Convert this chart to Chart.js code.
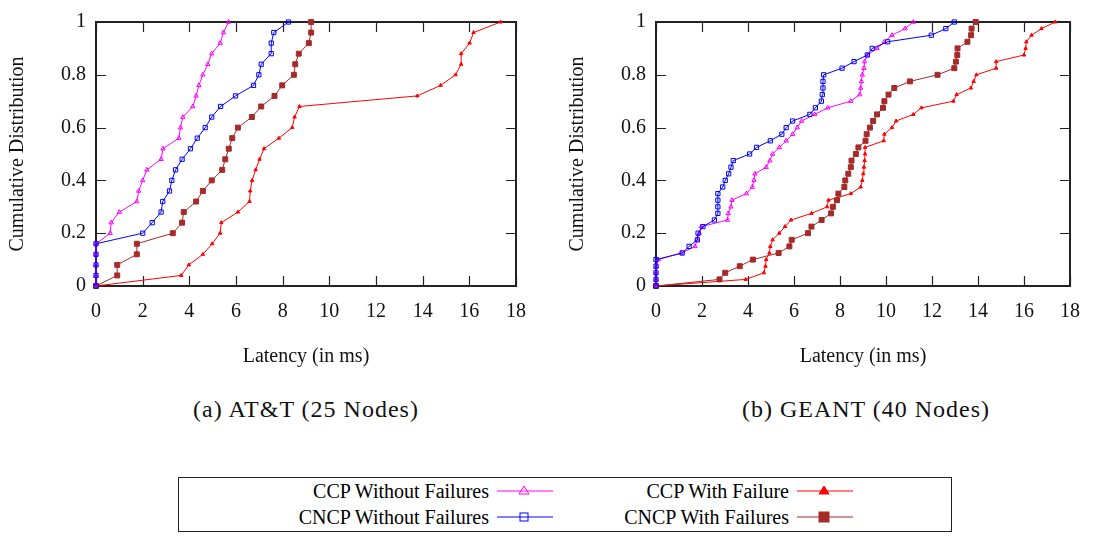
<!DOCTYPE html>
<html>
<head>
<meta charset="utf-8">
<script src="https://cdn.jsdelivr.net/npm/chart.js@4.4.0/dist/chart.umd.min.js"></script>
<style>
  body { margin: 0; background: #fff; }
  #page { position: relative; width: 1094px; height: 537px; overflow: hidden; font-family: "Liberation Serif", serif; }
  canvas { position: absolute; top: 0; }
  .cap { position: absolute; top: 396px; font-size: 24px; letter-spacing: 1px; white-space: nowrap; transform: translateX(-50%); color: #111; }
  #legend { position: absolute; left: 178px; top: 477px; width: 772px; height: 53px; border: 1.5px solid #222; }
  .item { position: absolute; height: 26px; font-size: 20px; line-height: 26px; white-space: nowrap; }
  .item span { position: absolute; right: 64px; top: 0; }
  .item svg { position: absolute; right: 0; top: 0; }
</style>
</head>
<body>
<div id="page">
  <canvas id="att" width="540" height="380" style="left:0px"></canvas>
  <canvas id="geant" width="534" height="380" style="left:560px"></canvas>
  <div class="cap" style="left:306px">(a) AT&amp;T (25 Nodes)</div>
  <div class="cap" style="left:866px">(b) GEANT (40 Nodes)</div>
  <div id="legend"></div>
</div>
<script>
// Dữ liệu: trục Y là phân phối tích lũy, trục X là độ trễ (ms)
const attY = [0, 0.04, 0.08, 0.12, 0.16, 0.2, 0.24, 0.28, 0.32, 0.36, 0.4, 0.44, 0.48, 0.52, 0.56, 0.6, 0.64, 0.68, 0.72, 0.76, 0.8, 0.84, 0.88, 0.92, 0.96, 1];
const geantY = [0, 0.025, 0.05, 0.075, 0.1, 0.125, 0.15, 0.175, 0.2, 0.225, 0.25, 0.275, 0.3, 0.325, 0.35, 0.375, 0.4, 0.425, 0.45, 0.475, 0.5, 0.525, 0.55, 0.575, 0.6, 0.625, 0.65, 0.675, 0.7, 0.725, 0.75, 0.775, 0.8, 0.825, 0.85, 0.875, 0.9, 0.925, 0.95, 0.975, 1];

// AT&T (25 nodes)
const attCcpNoFail = [0, 0, 0, 0, 0, 0.61, 0.65, 1.0, 1.75, 1.83, 2.0, 2.18, 2.79, 2.87, 3.55, 3.62, 3.72, 4.15, 4.29, 4.41, 4.58, 4.79, 4.96, 5.32, 5.46, 5.68];
const attCncpNoFail = [0, 0, 0, 0, 0, 2.0, 2.41, 2.79, 2.86, 3.15, 3.25, 3.41, 3.69, 4.05, 4.34, 4.68, 4.96, 5.34, 5.98, 6.75, 6.98, 7.08, 7.51, 7.51, 7.62, 8.25];
const attCcpFail = [0, 3.65, 3.98, 4.58, 4.98, 5.32, 5.37, 6.08, 6.58, 6.61, 6.69, 6.84, 7.01, 7.2, 7.84, 8.41, 8.51, 8.72, 13.77, 14.77, 15.41, 15.65, 15.65, 16.01, 16.18, 17.34];
const attCncpFail = [0, 0.91, 0.91, 1.75, 1.75, 3.29, 3.69, 3.76, 4.29, 4.58, 4.96, 5.41, 5.54, 5.69, 5.84, 6.08, 6.68, 7.08, 7.65, 7.98, 8.48, 8.54, 8.69, 9.12, 9.22, 9.22];

// GEANT (40 nodes)
const geantCcpNoFail = [0, 0, 0, 0.02, 0.1, 1.1, 1.7, 1.78, 1.88, 1.97, 3.11, 3.14, 3.26, 3.3, 3.93, 4.19, 4.26, 4.3, 4.79, 4.95, 5.07, 5.36, 5.66, 5.94, 6.14, 6.33, 6.9, 7.47, 8.47, 8.86, 8.9, 8.93, 8.97, 9.04, 9.07, 9.19, 9.61, 9.93, 10.26, 10.83, 11.19];
const geantCncpNoFail = [0, 0, 0, 0, 0, 1.14, 1.44, 1.8, 1.83, 2.04, 2.54, 2.69, 2.69, 2.69, 2.69, 2.9, 3.01, 3.16, 3.26, 3.36, 4.07, 4.37, 4.97, 5.47, 5.66, 5.94, 6.69, 6.93, 7.19, 7.23, 7.26, 7.26, 7.29, 8.09, 8.61, 9.19, 9.4, 10.07, 11.97, 12.6, 12.97];
const geantCcpFail = [0, 3.9, 4.69, 4.76, 4.79, 4.93, 4.97, 5.07, 5.36, 5.61, 5.87, 6.76, 7.44, 7.5, 8.47, 8.9, 8.97, 9.01, 9.04, 9.07, 9.09, 9.09, 9.9, 9.93, 10.26, 10.44, 11.19, 11.54, 12.93, 13.07, 13.69, 13.81, 13.93, 14.79, 14.79, 16.0, 16.07, 16.1, 16.33, 16.76, 17.36];
const geantCncpFail = [0, 2.76, 3.01, 3.64, 4.21, 5.33, 5.8, 5.9, 6.61, 6.76, 7.2, 7.61, 7.69, 7.87, 7.93, 8.19, 8.23, 8.36, 8.47, 8.5, 8.69, 8.8, 9.11, 9.16, 9.3, 9.44, 9.61, 9.87, 9.93, 10.11, 10.36, 11.04, 12.24, 12.97, 13.04, 13.1, 13.11, 13.54, 13.7, 13.72, 13.9];

const seriesNames = ["CCP Without Failures", "CNCP Without Failures", "CCP With Failure", "CNCP With Failures"];
const xTitle = "Latency (in ms)";
const yTitle = "Cumulative Distribution";
const fontFamily = "Liberation Serif";

// kiểu của từng đường: màu, điểm
const styles = [
  { color: "#ff00ff", point: "triangle", radius: 2.5, fill: false, order: 1 },
  { color: "#0000ff", point: "rect", radius: 3, fill: false, order: 0 },
  { color: "#ff0000", point: "triangle", radius: 2, fill: true, order: 3 },
  { color: "#a52a2a", point: "rect", radius: 3.5, fill: true, order: 2 },
];

function toPoints(xs, ys) {
  return xs.map((x, i) => ({ x: x, y: ys[i] }));
}

// khung và vạch chia hướng vào trong (kiểu gnuplot)
const frameTicks = {
  id: "frameTicks",
  beforeDatasetsDraw(chart) {
    const { ctx, chartArea: a, scales: { x, y } } = chart;
    ctx.save();
    ctx.strokeStyle = "#222";
    ctx.lineWidth = 1.2;
    ctx.beginPath();
    x.ticks.forEach(t => {
      const px = Math.round(x.getPixelForValue(t.value)) + 0.5;
      ctx.moveTo(px, a.bottom); ctx.lineTo(px, a.bottom - 10);
      ctx.moveTo(px, a.top); ctx.lineTo(px, a.top + 10);
    });
    y.ticks.forEach(t => {
      const py = Math.round(y.getPixelForValue(t.value)) + 0.5;
      ctx.moveTo(a.left, py); ctx.lineTo(a.left + 10, py);
      ctx.moveTo(a.right, py); ctx.lineTo(a.right - 10, py);
    });
    ctx.stroke();
    ctx.lineWidth = 2;
    ctx.strokeRect(a.left, a.top, a.right - a.left, a.bottom - a.top);
    ctx.restore();
  }
};

function makeChart(id, ys, xsList, padRight) {
  const font = { family: fontFamily, size: 20 };
  const datasets = xsList.map((xs, i) => {
    const s = styles[i];
    return {
      label: seriesNames[i],
      data: toPoints(xs, ys),
      showLine: true,
      borderColor: s.color,
      borderWidth: 1,
      pointStyle: s.point,
      pointRadius: s.radius,
      pointBorderColor: s.color,
      pointBorderWidth: 1,
      pointBackgroundColor: s.fill ? s.color : "rgba(0,0,0,0)",
      order: s.order,
      clip: false,
    };
  });
  return new Chart(document.getElementById(id), {
    type: "scatter",
    data: { datasets: datasets },
    options: {
      responsive: false,
      animation: false,
      layout: { padding: { top: 11, right: padRight, bottom: 0, left: 0 } },
      plugins: { legend: { display: false }, tooltip: { enabled: false } },
      scales: {
        x: {
          type: "linear", min: 0, max: 18,
          ticks: { stepSize: 2, padding: 14, color: "#111", font: font, maxRotation: 0 },
          grid: { display: false, drawTicks: false },
          border: { display: false },
          title: { display: true, text: xTitle, color: "#111", font: font, padding: { top: 0, bottom: 11 } },
          afterFit(s) { s.height = 94; }
        },
        y: {
          type: "linear", min: 0, max: 1,
          ticks: {
            stepSize: 0.2, padding: 10, color: "#111", font: font,
            callback: v => String(Math.round(v * 10) / 10)
          },
          grid: { display: false, drawTicks: false },
          border: { display: false },
          title: { display: true, text: yTitle, color: "#111", font: font, padding: { top: 6, bottom: 0 } },
          afterFit(s) { s.width = 96; }
        }
      }
    },
    plugins: [frameTicks]
  });
}

const charts = [
  makeChart("att", attY, [attCcpNoFail, attCncpNoFail, attCcpFail, attCncpFail], 24),
  makeChart("geant", geantY, [geantCcpNoFail, geantCncpNoFail, geantCcpFail, geantCncpFail], 18),
];

// vẽ lại khi phông chữ đã sẵn sàng
document.fonts.load('20px "Liberation Serif"').then(() => {
  charts.forEach(c => c.update());
});

// chú thích chung bên dưới
const legendPos = [
  { left: 0, top: 0, width: 374 },
  { left: 0, top: 26, width: 374 },
  { left: 0, top: 0, width: 674 },
  { left: 0, top: 26, width: 674 },
];
const legendBox = document.getElementById("legend");
seriesNames.forEach((name, i) => {
  const s = styles[i];
  const p = legendPos[i];
  const item = document.createElement("div");
  item.className = "item";
  item.style.left = p.left + "px";
  item.style.top = p.top + "px";
  item.style.width = p.width + "px";
  let mark;
  if (s.point === "triangle") {
    mark = '<polygon points="27,8 32,16 22,16" fill="' + (s.fill ? s.color : "none") + '" stroke="' + s.color + '" stroke-width="1"/>';
  } else {
    mark = '<rect x="' + (s.fill ? 22 : 23) + '" y="' + (s.fill ? 8 : 9) + '" width="' + (s.fill ? 10 : 8) + '" height="' + (s.fill ? 10 : 8) + '" fill="' + (s.fill ? s.color : "none") + '" stroke="' + s.color + '" stroke-width="1"/>';
  }
  item.innerHTML = '<span>' + name + '</span>' +
    '<svg width="56" height="26"><line x1="0" y1="13" x2="56" y2="13" stroke="' + s.color + '" stroke-width="1"/>' + mark + '</svg>';
  legendBox.appendChild(item);
});
</script>
</body>
</html>
